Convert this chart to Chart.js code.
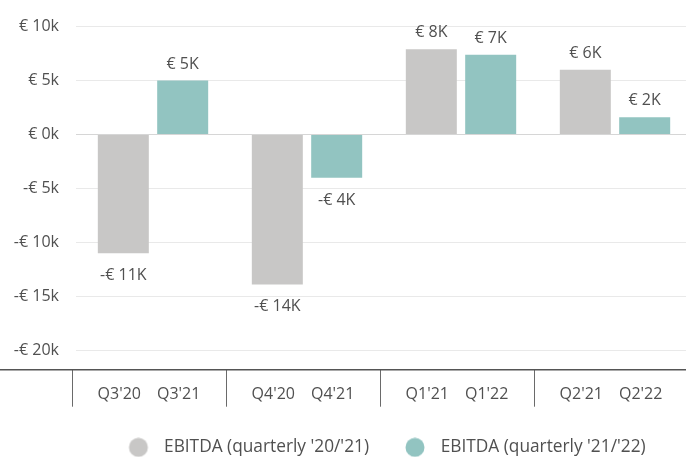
<!DOCTYPE html>
<html><head><meta charset="utf-8">
<script src="https://cdn.jsdelivr.net/npm/chart.js@4"></script>
<style>
html,body{margin:0;padding:0;overflow:hidden;background:#fff;}
#wrap{width:686px;height:461px;overflow:hidden;position:relative;}
canvas{display:block;}
</style></head><body>
<div id="wrap"><canvas id="c" width="692" height="466" style="width:692px;height:466px"></canvas></div>
<script>
const categories = ["Q3", "Q4", "Q1", "Q2"];
const barLabels2021 = ["Q3'20", "Q4'20", "Q1'21", "Q2'21"];
const barLabels2122 = ["Q3'21", "Q4'21", "Q1'22", "Q2'22"];
const ebitda2021 = [-11000, -13900, 7900, 6000];
const ebitda2122 = [5000, -4000, 7400, 1600];
const seriesNames = ["EBITDA (quarterly '20/'21)", "EBITDA (quarterly '21/'22)"];
const seriesColors = ["#c8c7c6", "#92c4c1"];
const yTicks = [-20000, -15000, -10000, -5000, 0, 5000, 10000];
const yMin = -21800, yMax = 10000;

Chart.defaults.font.family = "'Open Sans', sans-serif";
Chart.defaults.font.size = 16;
Chart.defaults.color = '#505050';

function fmtTick(v){ return (v < 0 ? '-' : '') + '€ ' + Math.abs(v) / 1000 + 'k'; }
function fmtK(v){ return (v < 0 ? '-' : '') + '€ ' + Math.round(Math.abs(v) / 1000) + 'K'; }

function marker(color){
  const c = document.createElement('canvas');
  c.width = 33; c.height = 20;
  const g = c.getContext('2d');
  g.fillStyle = color; g.beginPath(); g.arc(16, 10, 9.5, 0, Math.PI * 2); g.fill();
  return c;
}
const markers = seriesColors.map(marker);

const decor = {
  id: 'decor',
  afterDraw(chart){
    const {ctx, chartArea, scales: {x}} = chart;
    const b = chartArea.bottom;
    const half = (x.getPixelForValue(1) - x.getPixelForValue(0)) / 2;
    ctx.save();
    ctx.strokeStyle = '#6a6a6a'; ctx.lineWidth = 1;
    categories.forEach((c, i) => {
      const px = Math.round(x.getPixelForValue(i) - half - 4) + 0.5;
      ctx.beginPath(); ctx.moveTo(px, b); ctx.lineTo(px, b + 37); ctx.stroke();
    });
    ctx.strokeStyle = '#555'; ctx.lineWidth = 1.5;
    ctx.beginPath(); ctx.moveTo(0, b); ctx.lineTo(chart.width, b); ctx.stroke();
    ctx.font = "16px 'Open Sans', sans-serif"; ctx.fillStyle = '#505050';
    ctx.textAlign = 'center'; ctx.textBaseline = 'alphabetic';
    [barLabels2021, barLabels2122].forEach((labs, d) => {
      chart.getDatasetMeta(d).data.forEach((el, i) => { ctx.fillText(labs[i], el.x - 4, b + 29); });
    });
    chart.data.datasets.forEach((ds, d) => {
      chart.getDatasetMeta(d).data.forEach((el, i) => {
        const v = ds.data[i];
        ctx.fillText(fmtK(v), el.x, v >= 0 ? el.y - 12 : el.y + 27);
      });
    });
    ctx.restore();
  }
};

new Chart(document.getElementById('c'), {
  type: 'bar',
  data: {
    labels: categories,
    datasets: [
      { label: seriesNames[0], data: ebitda2021, backgroundColor: seriesColors[0], categoryPercentage: 0.771, barPercentage: 0.859 },
      { label: seriesNames[1], data: ebitda2122, backgroundColor: seriesColors[1], categoryPercentage: 0.771, barPercentage: 0.859 }
    ]
  },
  options: {
    responsive: false,
    animation: false,
    layout: { padding: { top: 24, left: 0, right: 0, bottom: 0 } },
    scales: {
      x: {
        ticks: { display: false },
        grid: { display: false },
        border: { display: false },
        afterFit: s => { s.height = 39; }
      },
      y: {
        min: yMin, max: yMax,
        ticks: { padding: 17, callback: fmtTick, color: '#505050' },
        afterBuildTicks: s => { s.ticks = yTicks.map(v => ({ value: v })); },
        grid: { drawTicks: false, color: c => c.tick && c.tick.value === 0 ? '#d6d6d6' : '#e9e9e9' },
        border: { display: false },
        afterFit: s => { s.width = 76; }
      }
    },
    plugins: {
      tooltip: { enabled: false },
      legend: {
        position: 'bottom',
        fullSize: false,
        labels: {
          usePointStyle: true,
          pointStyleWidth: 33,
          padding: 30,
          font: { size: 17.3 },
          color: '#505050',
          generateLabels: chart => Chart.defaults.plugins.legend.labels.generateLabels(chart).map((it, i) => Object.assign(it, { pointStyle: markers[i] }))
        }
      }
    }
  },
  plugins: [decor]
});
</script>
</body></html>
